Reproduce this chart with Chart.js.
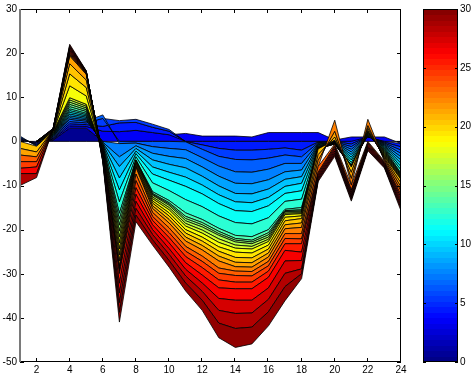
<!DOCTYPE html>
<html>
<head>
<meta charset="utf-8">
<script src="https://cdn.jsdelivr.net/npm/chart.js@4/dist/chart.umd.min.js"></script>
<style>
    html, body { margin: 0; padding: 0; background: #fff; }
    #wrap { width: 475px; height: 376px; }
</style>
</head>
<body>
<div id="wrap"><canvas id="chart" width="475" height="376"></canvas></div>
<script>
const hours = [1, 2, 3, 4, 5, 6, 7, 8, 9, 10, 11, 12, 13, 14, 15, 16, 17, 18, 19, 20, 21, 22, 23, 24];
const xTickValues = [2, 4, 6, 8, 10, 12, 14, 16, 18, 20, 22, 24];
const yTickValues = [-50, -40, -30, -20, -10, 0, 10, 20, 30];
const colorbarTicks = [0, 5, 10, 15, 20, 25, 30];

// signed thickness of each stacked layer, per hour (positives stack up, negatives down)
const layer01 = [0, 0, 0.3, 3, 3, 0, 0, 0, 0, 0, 0, 0, 0, 0, 0, 0, 0, 0, 0, 0, 0, 0, 0, 0];
const layer02 = [0, 0, 0, 0, 0, 0, 0, 0, 0, 0, 0, 0, 0, 0, 0, 0, 0, 0, 0, 0, 0, 0, 0, 0];
const layer03 = [0, 0, 0, 0, 0, 0, 0, 0, 0, 0, 0, 0, 0, 0, 0, 0, 0, 0, 0, 0, 0, 0, 0, 0];
const layer04 = [0.3, -0.3, 0.2, 0.5, 0.4, 2.3, 2.2, 2.5, 2.0, 1.5, 1.8, 1.2, 1.2, 1.2, 1.0, 2.0, 2.0, 2.0, 2.0, 0.3, 1.0, 1.0, 1.0, -0.5];
const layer05 = [0.3, -0.3, 0.2, 0.5, 0.4, 1.1, 2.0, 1.8, 1.2, 0.8, -0.05, -0.8, -1.6, -2.0, -2.0, -1.8, -1.5, -2.0, -0.15, -0.05, -0.6, 0.05, -0.2, -0.75];
const layer06 = [0.3, -0.25, 0.2, 0.5, 0.4, 1.8, 0.5, 0.7, 0.7, 0.4, -0.05, -1.0, -1.8, -2.1, -2.2, -2.0, -1.6, -1.5, -0.15, -0.05, -0.6, 0.05, -0.2, -0.75];
const layer07 = [0.3, -0.25, 0.2, 0.5, 0.4, 0.8, -0.5, -0.4, -1.2, -1.6, -1.8, -1.9, -2.2, -2.8, -2.8, -2.5, -1.9, -1.5, -0.15, -0.05, -0.6, 0.05, -0.2, -0.75];
const layer08 = [0, 0, 0.1, 0.4, 0.3, -0.2, -3.0, -0.6, -1.5, -1.8, -2.0, -2.1, -2.3, -2.6, -2.6, -2.4, -1.9, -1.5, -0.15, -0.05, -0.6, 0.05, -0.2, -0.75];
const layer09 = [0, 0, 0.1, 0.4, 0.3, -0.2, -2.2, -0.6, -1.5, -1.8, -2.1, -2.1, -2.2, -2.3, -2.3, -2.1, -1.7, -1.5, -0.15, -0.05, -0.6, 0.05, -0.2, -0.75];
const layer10 = [0, 0, 0.1, 0.4, 0.3, -0.2, -2.6, -0.6, -1.6, -1.8, -2.1, -2.0, -2.0, -1.9, -2.0, -1.9, -1.6, -1.5, -0.15, -0.05, -0.6, 0.05, -0.2, -0.75];
const layer11 = [0, 0, 0.1, 0.4, 0.3, -0.2, -2.7, -0.6, -1.6, -1.8, -2.1, -2.0, -2.0, -2.0, -2.0, -1.9, -1.6, -1.7, -0.15, -0.05, -0.6, 0.05, -0.2, -0.75];
const layer12 = [0, 0, 0.1, 0.4, 0.3, -0.2, -2.7, -0.7, -2.0, -2.35, -3.0, -2.9, -2.8, -2.7, -2.8, -2.7, -1.8, -1.9, -0.15, -0.05, -0.6, 0.05, -0.2, -0.75];
const layer13 = [0, 0, 0.1, 0.4, 0.3, -0.2, -2.6, -0.7, -2.0, -2.25, -3.0, -2.9, -2.8, -2.9, -2.9, -2.7, -1.8, -1.9, -0.15, -0.05, -0.6, 0.05, -0.2, -0.75];
const layer14 = [0, 0, 0.1, 0.5, 0.4, -0.2, -1.35, -0.1, -0.4, -0.5, -0.8, -0.7, -0.7, -0.7, -0.8, -0.7, -0.3, -0.5, -0.05, -0.02, -0.06, 0.15, -0.25, -0.2];
const layer15 = [0, 0, 0.1, 0.5, 0.4, -0.2, -1.35, -0.1, -0.2, -0.3, -0.5, -0.5, -0.5, -0.4, -0.4, -0.5, -0.15, -0.25, -0.05, -0.02, -0.06, 0.15, -0.25, -0.2];
const layer16 = [0, 0, 0.1, 0.5, 0.4, -0.2, -1.35, -0.1, -0.2, -0.3, -0.5, -0.5, -0.4, -0.4, -0.4, -0.5, -0.15, -0.25, -0.05, -0.02, -0.06, 0.15, -0.25, -0.2];
const layer17 = [0, 0, 0.1, 0.5, 0.4, -0.2, -1.35, -0.1, -0.4, -0.5, -0.6, -0.7, -0.8, -0.7, -0.6, -0.5, -0.3, -0.2, -0.05, -0.02, -0.06, 0.15, -0.25, -0.2];
const layer18 = [0, 0, 0.1, 0.5, 0.4, -0.2, -1.35, -0.1, -0.4, -0.5, -0.6, -0.7, -0.8, -0.7, -0.6, -0.5, -0.3, -0.2, -0.05, -0.02, -0.06, 0.15, -0.25, -0.2];
const layer19 = [0, 0, 0.1, 2.7, 1.9, -0.2, -1.35, -0.3, -0.5, -0.7, -0.8, -0.9, -1.0, -0.9, -0.9, -0.8, -0.6, -0.5, -0.05, -0.02, -0.06, 0.15, -0.25, -0.2];
const layer20 = [0, 0, 0.1, 2.7, 1.9, -0.2, -1.35, -0.3, -0.5, -0.7, -0.8, -0.9, -1.0, -1.2, -1.1, -0.9, -0.8, -0.6, -0.05, -0.02, -0.06, 0.15, -0.25, -0.2];
const layer21 = [-1.6, -1.3, 0.1, 2.3, 1.7, -0.2, -1.35, -0.3, -0.6, -0.8, -0.9, -1.0, -1.1, -1.1, -1.1, -0.9, -0.9, -1.0, -1.3, 0.7, -1.2, 0.5, -0.3, -0.8];
const layer22 = [-1.5, -1.1, 0.1, 1.8, 1.3, -0.2, -1.35, -0.3, -0.6, -0.8, -0.9, -1.0, -1.1, -1.0, -1.0, -0.9, -0.9, -1.0, -1.3, 1.3, -1.4, 0.6, -0.3, -0.9];
const layer23 = [0, 0, 0.05, 0.3, 0.15, -0.2, -0.5, -1.5, -0.9, -1.1, -1.2, -1.4, -1.6, -1.0, -1.0, -1.0, -1.1, -1.4, -1.4, 2.5, -1.5, 1.4, -0.4, -0.9];
const layer24 = [-1.5, -1.1, 0.05, 0.3, 0.15, -0.2, -0.5, -1.5, -0.9, -1.1, -1.1, -1.2, -1.2, -1.0, -1.0, -1.0, -1.1, -1.2, -1.3, -0.4, -1.1, -0.3, -0.3, -0.9];
const layer25 = [-1.5, -1.2, 0.05, 0.3, 0.15, -0.2, -0.5, -1.6, -0.9, -1.1, -1.2, -1.4, -1.5, -1.5, -1.4, -1.2, -1.2, -1.1, -0.35, -0.4, -0.42, -0.3, -0.2, -0.6];
const layer26 = [0, 0, 0.04, 0.34, 0.07, -0.22, -2.2, -1.5, -1.0, -1.2, -1.4, -1.7, -1.8, -1.5, -1.5, -1.4, -1.5, -1.9, -0.35, -0.4, -0.42, -0.3, -0.2, -0.6];
const layer27 = [-1.2, -1.5, 0.04, 0.34, 0.07, -0.22, -2.2, -1.6, -1.1, -1.3, -1.5, -1.8, -2.4, -2.6, -2.6, -2.4, -2.4, -1.9, -0.35, -0.4, -0.42, -0.3, -0.2, -0.6];
const layer28 = [0, 0, 0.04, 0.34, 0.07, -0.22, -2.2, -1.6, -1.1, -1.3, -1.5, -1.9, -2.7, -3.0, -2.9, -2.6, -2.8, -1.9, -0.35, -0.4, -0.42, -0.3, -0.2, -0.6];
const layer29 = [-2.7, -0.9, 0.04, 0.34, 0.07, -0.22, -2.2, -1.5, -1.2, -1.4, -1.6, -2.0, -2.9, -3.4, -3.2, -2.8, -3.0, -1.1, -0.35, -0.4, -0.42, -0.3, -0.2, -0.6];
const layer30 = [0, 0, 0.04, 0.34, 0.07, -0.22, -2.2, -1.5, -1.2, -1.5, -1.8, -2.3, -3.3, -4.3, -3.8, -3.2, -3.2, -1.1, -0.35, -0.4, -0.42, -0.3, -0.2, -0.6];

const layers = [
    layer01, layer02, layer03, layer04, layer05, layer06, layer07, layer08, layer09, layer10,
    layer11, layer12, layer13, layer14, layer15, layer16, layer17, layer18, layer19, layer20,
    layer21, layer22, layer23, layer24, layer25, layer26, layer27, layer28, layer29, layer30
];

const fuente = '"Liberation Sans", Arial, Helvetica, sans-serif';

function jet(t) {
    const c = v => Math.max(0, Math.min(1, v));
    const r = c(1.5 - Math.abs(4 * t - 3));
    const g = c(1.5 - Math.abs(4 * t - 2));
    const b = c(1.5 - Math.abs(4 * t - 1));
    return `rgb(${Math.round(r * 255)},${Math.round(g * 255)},${Math.round(b * 255)})`;
}

// a zero-thickness layer sits on the side its neighbours go to
function sideOf(vals, i) {
    if (vals[i] !== 0) return Math.sign(vals[i]);
    const s = (vals[i - 1] || 0) + (vals[i + 1] || 0);
    return s < 0 ? -1 : 1;
}

function construirDatasets() {
    const n = layers.length;
    const posTop = hours.map(() => 0);
    const negTop = hours.map(() => 0);
    const datasets = [];
    layers.forEach((vals, j) => {
        const inner = [];
        const outer = [];
        vals.forEach((v, i) => {
            const up = sideOf(vals, i) > 0;
            const base = up ? posTop[i] : negTop[i];
            inner.push({ x: hours[i], y: base });
            outer.push({ x: hours[i], y: base + v });
            if (up) posTop[i] = base + v; else negTop[i] = base + v;
        });
        const edge = {
            borderColor: ctx => (vals[ctx.p0DataIndex] === 0 && vals[ctx.p1DataIndex] === 0) ? 'rgba(0,0,0,0)' : '#000'
        };
        const order = 2 * (n - 1 - j);
        const innerIndex = datasets.length;
        datasets.push({
            label: 'base ' + (j + 1),
            data: inner,
            fill: false,
            borderColor: '#000',
            borderWidth: 0.8,
            segment: edge,
            order: order
        });
        datasets.push({
            label: 'layer ' + (j + 1),
            data: outer,
            fill: innerIndex,
            backgroundColor: jet((j + 0.5) / n),
            borderColor: '#000',
            borderWidth: 0.8,
            segment: edge,
            order: order + 1
        });
    });
    return datasets;
}

const frameAndColorbar = {
    id: 'frameAndColorbar',
    afterDatasetsDraw(chart) {
        const { ctx, chartArea: a, scales: { x, y } } = chart;
        ctx.save();
        ctx.strokeStyle = '#000';
        ctx.lineWidth = 1;
        ctx.strokeRect(a.left + 0.5, a.top + 0.5, a.right - a.left - 1, a.bottom - a.top - 1);
        ctx.beginPath();
        xTickValues.forEach(v => {
            const px = Math.round(x.getPixelForValue(v)) - 0.5;
            ctx.moveTo(px, a.bottom); ctx.lineTo(px, a.bottom - 4);
            ctx.moveTo(px, a.top); ctx.lineTo(px, a.top + 4);
        });
        yTickValues.forEach(v => {
            const py = Math.round(y.getPixelForValue(v)) + 0.5;
            ctx.moveTo(a.left, py); ctx.lineTo(a.left + 4, py);
            ctx.moveTo(a.right, py); ctx.lineTo(a.right - 4, py);
        });
        ctx.stroke();
        ctx.strokeStyle = '#7a7a7a';
        ctx.lineWidth = 2;
        ctx.beginPath();
        ctx.moveTo(a.left, a.top);
        ctx.lineTo(a.left, a.bottom);
        ctx.stroke();
        ctx.restore();
    },
    afterDraw(chart) {
        const { ctx } = chart;
        const cb = chart.scales.cb;
        const left = cb.left + 22;
        const right = cb.left + 57;
        const steps = 64;
        ctx.save();
        for (let i = 0; i < steps; i++) {
            const y0 = cb.getPixelForValue(i * 30 / steps);
            const y1 = cb.getPixelForValue((i + 1) * 30 / steps);
            ctx.fillStyle = jet((i + 0.5) / steps);
            ctx.fillRect(left, Math.floor(y1), right - left, Math.ceil(y0) - Math.floor(y1));
        }
        ctx.strokeStyle = '#000';
        ctx.lineWidth = 1;
        const top = Math.round(cb.getPixelForValue(30));
        const bottom = Math.round(cb.getPixelForValue(0));
        ctx.strokeRect(left + 0.5, top + 0.5, right - left - 1, bottom - top - 1);
        ctx.beginPath();
        colorbarTicks.forEach(v => {
            const py = Math.round(cb.getPixelForValue(v)) + 0.5;
            ctx.moveTo(left, py); ctx.lineTo(left + 3, py);
            ctx.moveTo(right, py); ctx.lineTo(right - 3, py);
        });
        ctx.stroke();
        ctx.fillStyle = '#000';
        ctx.font = '10px ' + fuente;
        ctx.textAlign = 'left';
        ctx.textBaseline = 'middle';
        colorbarTicks.forEach(v => {
            ctx.fillText(String(v), right + 2, cb.getPixelForValue(v));
        });
        ctx.restore();
    }
};

Chart.defaults.font.family = fuente;
Chart.defaults.font.size = 10;
Chart.defaults.color = '#000';

new Chart(document.getElementById('chart'), {
    type: 'line',
    data: { datasets: construirDatasets() },
    options: {
        responsive: false,
        animation: false,
        layout: { padding: { top: 9 } },
        plugins: {
            legend: { display: false },
            tooltip: { enabled: false }
        },
        elements: {
            point: { radius: 0 },
            line: { tension: 0, borderJoinStyle: 'round' }
        },
        scales: {
            x: {
                type: 'linear',
                min: 1,
                max: 24,
                afterBuildTicks: s => { s.ticks = xTickValues.map(value => ({ value })); },
                afterFit: s => { s.height = 14; },
                grid: { display: false, drawTicks: false },
                border: { display: false },
                ticks: { padding: 2, maxRotation: 0, autoSkip: false }
            },
            y: {
                type: 'linear',
                min: -50,
                max: 30,
                afterBuildTicks: s => { s.ticks = yTickValues.map(value => ({ value })); },
                afterFit: s => { s.width = 20; },
                grid: { display: false, drawTicks: false },
                border: { display: false },
                ticks: { padding: 3 }
            },
            cb: {
                type: 'linear',
                position: 'right',
                min: 0,
                max: 30,
                afterFit: s => { s.width = 74; },
                grid: { display: false, drawTicks: false },
                border: { display: false },
                ticks: { display: false, padding: 0 }
            }
        }
    },
    plugins: [frameAndColorbar]
});
</script>
</body>
</html>
